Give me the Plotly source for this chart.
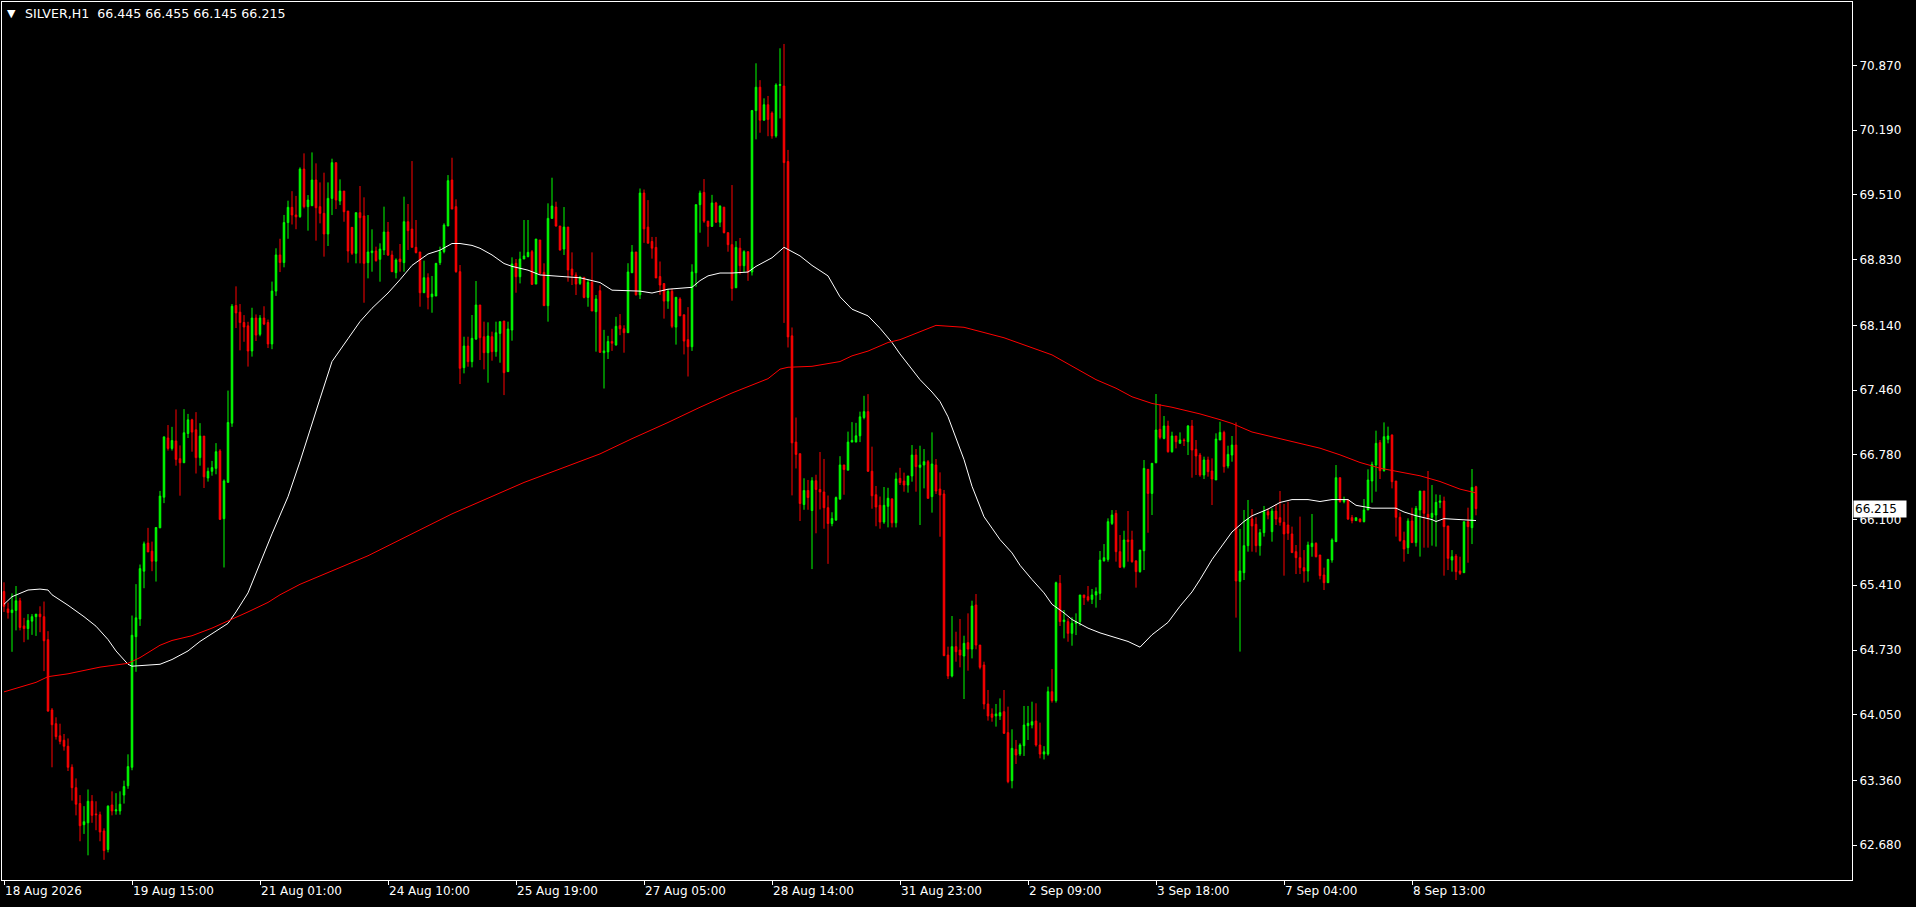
import plotly.graph_objects as go

# ---------------- data ----------------
symbol_title = "SILVER,H1"
last_ohlc = ["66.445", "66.455", "66.145", "66.215"]
last_price = 66.215

opens = [65.344,65.162,65.123,65.146,65.247,64.983,64.955,65.033,65.080,65.107,
65.080,64.839,64.100,63.956,63.828,63.782,63.719,63.498,63.284,63.117,
62.895,62.915,63.141,63.008,63.000,62.829,62.635,63.102,63.039,63.039,
63.206,63.304,63.498,64.870,65.056,65.558,65.853,65.768,65.663,66.013,
66.335,66.957,66.848,66.926,66.740,66.697,67.004,67.148,67.043,66.751,
66.977,66.537,66.607,66.638,66.821,66.110,66.491,67.113,68.349,68.279,
68.170,68.135,67.871,68.217,68.046,68.217,68.170,67.945,68.500,68.880,
68.800,69.220,69.380,69.300,69.282,69.782,69.387,69.397,69.667,69.387,
69.317,69.100,69.474,69.849,69.446,69.551,69.341,69.170,68.897,69.324,
69.289,68.799,68.904,68.921,68.834,68.932,69.121,68.879,68.694,68.837,
68.799,69.229,69.152,68.960,68.911,68.483,68.641,68.441,68.448,68.799,
68.914,69.184,69.667,69.387,68.704,67.696,67.923,67.759,67.997,68.354,
68.021,67.853,68.021,67.864,68.056,68.186,67.654,68.091,68.792,68.651,
68.837,68.862,68.914,68.574,69.037,68.697,68.347,69.264,69.383,69.184,
68.942,69.173,68.732,68.669,68.581,68.645,68.434,68.592,68.284,68.504,
67.853,67.861,67.971,67.934,68.137,68.104,68.063,68.693,68.911,68.461,
69.530,69.172,69.021,68.959,68.653,68.579,68.395,68.498,68.122,68.417,
68.251,67.990,67.916,68.693,69.408,69.537,69.235,69.180,69.426,69.224,
69.382,69.114,68.988,68.535,68.951,68.767,68.914,68.701,70.396,70.642,
70.296,70.458,70.370,70.130,70.660,70.654,69.861,68.030,66.914,66.792,
66.258,66.405,66.195,66.508,66.416,66.390,66.225,66.059,66.096,66.317,
66.674,66.619,66.914,66.914,66.980,67.172,67.234,66.608,66.361,66.250,
66.074,66.239,66.317,66.066,66.533,66.505,66.463,66.558,66.778,66.649,
66.673,66.708,66.341,66.673,66.421,66.369,64.677,64.457,64.765,64.730,
64.667,64.807,64.740,65.203,64.782,64.572,64.163,64.058,64.037,64.037,
64.082,63.862,63.357,63.686,63.637,63.725,63.935,63.942,63.984,63.732,
63.637,63.637,64.292,64.198,65.430,65.028,65.028,64.905,65.010,65.028,
65.308,65.290,65.262,65.308,65.325,65.668,65.682,66.060,66.165,65.763,
65.605,65.886,65.886,65.665,65.553,65.773,66.628,66.375,66.698,67.048,
66.953,67.083,66.813,66.978,66.901,66.936,66.918,67.083,66.838,66.778,
66.568,66.726,66.610,66.516,66.936,67.016,66.663,66.778,66.883,65.451,
65.542,65.826,66.106,66.050,65.826,65.963,66.183,65.973,66.190,66.120,
66.071,66.043,65.949,65.763,65.700,65.595,65.560,65.816,65.851,65.728,
65.518,65.437,65.675,65.868,66.540,66.288,66.306,66.120,66.089,66.106,
66.078,66.201,66.505,66.673,66.908,66.614,66.943,66.988,66.505,66.124,
65.879,65.805,66.085,65.858,66.201,66.400,66.155,66.124,66.148,66.281,
66.295,66.033,65.675,65.717,65.560,65.542,66.078,66.015,66.445]

highs = [65.441,65.228,65.325,65.402,65.278,65.068,65.107,65.107,65.107,65.189,
65.239,64.928,64.120,64.023,63.956,63.848,63.801,63.529,63.381,63.206,
63.090,63.265,63.206,63.141,63.032,62.857,63.098,63.245,63.226,63.245,
63.358,63.634,65.092,65.422,65.628,65.869,66.013,65.869,66.017,66.401,
66.969,67.093,67.074,67.257,66.879,67.260,67.210,67.159,67.229,67.113,
66.977,66.646,66.716,66.903,66.840,66.522,67.455,68.364,68.550,68.364,
68.248,68.178,68.325,68.255,68.248,68.341,68.201,68.600,68.950,69.050,
69.300,69.450,69.550,69.500,69.800,69.947,69.509,69.957,69.842,69.642,
69.744,69.642,69.891,69.849,69.674,69.551,69.341,69.170,69.324,69.604,
69.485,69.299,69.149,68.967,69.002,69.387,69.226,68.925,68.844,68.995,
69.492,69.415,69.866,69.247,68.911,68.820,68.687,68.659,68.792,68.967,
69.212,69.719,69.901,69.464,68.774,68.021,68.021,68.249,68.606,68.354,
68.179,68.172,68.074,68.179,68.179,68.186,68.179,68.855,68.837,68.914,
69.247,69.247,68.932,69.047,69.037,68.792,69.422,69.691,69.439,69.184,
69.383,69.173,68.907,68.697,68.659,68.645,68.623,68.907,68.459,68.560,
68.093,68.030,68.104,68.229,68.259,68.141,68.793,68.984,68.911,69.578,
69.567,69.456,69.069,69.069,68.811,68.579,68.524,68.524,68.435,68.435,
68.251,68.332,68.782,69.408,69.556,69.677,69.235,69.511,69.438,69.401,
69.382,69.114,69.614,69.025,69.058,68.929,68.914,70.403,70.893,70.716,
70.525,70.550,70.388,70.683,71.051,71.096,69.983,68.118,67.172,66.792,
66.534,66.516,66.545,66.571,66.810,66.737,66.353,66.177,66.342,66.766,
66.674,67.024,67.124,67.116,67.234,67.400,67.418,66.866,66.453,66.342,
66.442,66.434,66.324,66.593,66.644,66.593,66.558,66.883,66.841,66.876,
66.841,66.726,67.016,66.736,66.596,66.411,64.765,65.087,64.922,65.056,
64.880,65.115,65.248,65.318,64.782,64.607,64.310,64.117,64.163,64.222,
64.310,64.135,63.897,63.785,63.750,64.142,64.142,64.187,64.170,63.967,
63.720,64.345,64.530,65.448,65.518,65.150,65.063,65.073,65.115,65.308,
65.308,65.402,65.371,65.388,65.770,65.843,66.113,66.200,66.200,65.938,
65.983,66.190,65.983,65.675,65.780,66.726,66.628,66.691,67.419,67.314,
67.188,67.139,67.023,66.978,67.016,66.953,67.093,67.146,66.936,66.800,
66.761,66.761,66.743,67.006,67.128,67.034,66.876,66.978,67.121,66.002,
66.201,66.306,66.211,66.124,66.001,66.243,66.218,66.218,66.260,66.400,
66.264,66.288,66.026,65.833,66.131,65.780,65.868,66.159,65.861,65.728,
65.595,65.682,65.903,66.673,66.540,66.341,66.306,66.148,66.120,66.113,
66.316,66.628,66.708,67.034,66.936,67.121,67.076,66.995,66.505,66.176,
65.973,66.113,66.225,66.243,66.400,66.400,66.610,66.463,66.365,66.360,
66.341,66.033,65.780,65.738,65.710,66.078,66.225,66.631,66.455]

lows = [65.130,65.060,64.711,64.936,64.936,64.812,64.839,64.889,64.878,64.917,
64.508,64.081,63.498,63.789,63.739,63.673,63.459,63.148,62.993,62.721,
62.798,62.573,62.915,62.837,62.721,62.526,62.604,62.993,63.000,63.000,
63.117,63.272,63.467,64.501,64.983,65.379,65.760,65.558,65.449,66.013,
66.273,66.825,66.825,66.666,66.351,66.697,66.957,66.813,66.584,66.666,
66.432,66.499,66.561,66.576,66.102,65.597,66.491,67.074,68.112,67.878,
67.968,67.707,67.812,67.976,68.026,68.143,67.902,67.890,68.450,68.700,
68.750,69.050,69.200,69.150,69.270,69.369,69.135,69.397,69.030,69.212,
68.862,68.974,69.299,69.362,69.404,69.229,68.799,68.879,68.792,68.792,
68.378,68.634,68.704,68.809,68.599,68.879,68.869,68.704,68.634,68.704,
68.704,68.932,68.960,68.897,68.336,68.483,68.308,68.273,68.448,68.774,
68.897,69.184,69.362,68.693,67.524,67.636,67.706,67.699,67.986,67.776,
67.678,67.538,67.769,67.811,67.748,67.408,67.654,67.979,68.483,68.581,
68.837,68.855,68.564,68.574,68.679,68.347,68.179,69.264,69.177,68.925,
68.879,68.599,68.564,68.459,68.564,68.424,68.336,68.291,67.864,67.850,
67.477,67.787,67.872,67.927,68.037,67.853,68.063,68.693,68.454,68.417,
69.007,69.003,68.841,68.638,68.461,68.211,68.314,68.111,67.938,68.240,
67.835,67.603,67.872,68.546,69.114,69.217,68.966,69.180,69.217,69.173,
69.106,68.914,68.399,68.535,68.675,68.701,68.608,68.664,70.094,70.164,
70.292,70.127,70.101,70.112,70.314,68.166,67.908,66.354,66.637,66.085,
66.203,66.203,65.580,65.956,66.206,66.004,65.635,66.030,66.085,66.306,
66.361,66.619,66.914,66.914,66.914,67.153,66.601,66.214,66.030,66.004,
66.055,66.018,66.018,66.018,66.463,66.393,66.383,66.498,66.393,66.043,
66.428,66.323,66.173,66.369,65.920,64.670,64.425,64.443,64.607,64.548,
64.215,64.513,64.642,64.737,64.527,64.107,63.988,63.977,63.925,63.995,
63.848,63.330,63.277,63.533,63.617,63.617,63.785,63.907,63.715,63.592,
63.580,63.620,64.177,64.177,64.982,64.852,64.817,64.775,64.887,64.985,
65.203,65.238,65.213,65.175,65.255,65.658,65.658,66.043,65.658,65.598,
65.588,65.658,65.647,65.385,65.542,65.570,65.962,66.148,66.691,66.943,
66.943,66.803,66.803,66.848,66.901,66.873,66.778,66.540,66.568,66.550,
66.526,66.551,66.253,66.516,66.936,66.593,66.638,66.708,65.070,64.713,
65.465,65.763,65.763,65.756,65.721,65.921,66.103,65.868,66.043,66.036,
65.511,65.886,65.753,65.528,65.528,65.437,65.448,65.710,65.703,65.472,
65.360,65.437,65.647,65.868,66.278,66.271,66.096,66.061,66.089,66.071,
66.071,66.201,66.278,66.393,66.526,66.603,66.901,66.428,65.921,65.868,
65.658,65.739,65.858,65.816,65.711,65.805,65.805,65.826,65.816,66.220,
65.511,65.570,65.553,65.465,65.518,65.542,65.647,65.843,66.145]

closes = [65.189,65.123,65.150,65.247,64.967,64.955,65.041,65.080,65.107,65.080,
64.827,64.089,63.945,63.820,63.770,63.719,63.498,63.284,63.110,62.884,
62.926,63.141,62.993,63.000,62.818,62.623,63.090,63.039,63.051,63.110,
63.296,63.505,64.885,65.068,65.585,65.845,65.760,65.663,66.017,66.347,
66.969,66.848,66.930,66.732,66.697,67.012,67.148,67.019,66.751,66.977,
66.549,66.607,66.646,66.813,66.102,66.506,67.120,68.341,68.271,68.170,
68.123,67.871,68.217,68.038,68.217,68.154,67.945,68.500,68.880,68.800,
69.220,69.380,69.300,69.280,69.782,69.387,69.457,69.667,69.376,69.317,
69.100,69.474,69.849,69.457,69.551,69.334,68.921,68.897,69.324,69.271,
68.792,68.911,68.921,68.820,68.942,69.121,68.879,68.704,68.827,68.809,
69.229,69.135,68.960,68.904,68.483,68.641,68.434,68.469,68.792,68.914,
69.194,69.660,69.362,68.704,67.689,67.923,67.759,68.004,68.354,68.011,
67.853,68.028,67.864,68.063,68.179,67.643,68.102,68.785,68.651,68.837,
68.869,68.907,68.571,69.047,68.687,68.347,69.264,69.394,69.184,68.932,
69.173,68.722,68.669,68.574,68.645,68.434,68.592,68.291,68.417,67.857,
67.872,67.971,67.953,68.130,68.104,68.063,68.701,68.911,68.461,69.530,
69.154,69.003,68.951,68.638,68.564,68.395,68.498,68.130,68.435,68.240,
67.975,67.916,68.701,69.408,69.530,69.235,69.180,69.426,69.224,69.393,
69.114,68.988,68.527,68.959,68.767,68.914,68.701,70.396,70.642,70.296,
70.458,70.303,70.130,70.665,70.670,69.850,68.019,66.906,66.785,66.269,
66.405,66.332,66.508,66.416,66.390,66.225,66.059,66.111,66.331,66.674,
66.626,66.914,66.932,66.980,67.179,67.234,66.608,66.350,66.232,66.074,
66.250,66.324,66.066,66.527,66.488,66.463,66.558,66.778,66.656,66.673,
66.708,66.323,66.684,66.400,66.358,64.670,64.457,64.765,64.712,64.677,
64.800,64.740,65.192,64.782,64.548,64.163,64.037,64.023,64.058,64.072,
63.855,63.347,63.697,63.627,63.732,63.942,63.960,63.977,63.732,63.637,
63.660,64.292,64.198,65.437,65.028,65.045,64.905,65.010,65.028,65.308,
65.280,65.255,65.308,65.343,65.675,65.700,66.078,66.148,65.763,65.598,
65.886,65.868,65.658,65.553,65.780,66.638,66.375,66.691,67.041,66.964,
67.083,66.813,66.978,66.918,66.936,66.929,67.083,66.831,66.768,66.568,
66.726,66.603,66.526,66.946,67.016,66.656,66.785,66.883,65.455,65.560,
65.826,66.106,66.033,65.826,65.963,66.183,66.148,66.190,66.106,66.071,
65.949,65.956,65.753,65.700,65.595,65.560,65.833,65.851,65.710,65.511,
65.437,65.682,65.886,66.540,66.288,66.306,66.106,66.089,66.120,66.078,
66.201,66.516,66.680,66.901,66.614,66.971,66.978,66.498,66.124,65.879,
65.791,66.085,65.858,66.218,66.400,66.166,66.124,66.166,66.281,66.295,
66.026,65.693,65.710,65.553,65.535,66.078,66.026,66.438,66.215]

# moving averages, read at sample bars
white_ma_bar = [0,2,6,9,11,12,16,20,23,26,28,31,32,36,39,42,46,49,52,56,58,61,64,67,71,74,
79,82,86,89,92,96,99,102,106,109,112,114,117,119,122,125,127,131,134,137,141,144,147,149,
152,156,159,162,166,169,172,174,176,179,182,186,188,192,195,199,202,206,209,212,216,219,222,
224,229,232,234,236,238,240,242,245,247,249,252,254,257,260,262,265,267,271,274,277,281,284,
287,291,294,297,299,302,305,307,310,312,316,319,322,326,329,332,336,338,342,345,348,350,353,
357,358,360,363,367,368]
white_ma_val = [65.21,65.29,65.36,65.37,65.36,65.31,65.20,65.08,64.98,64.84,64.72,64.58,64.56,
64.57,64.58,64.63,64.72,64.82,64.90,65.01,65.13,65.33,65.64,65.95,66.34,66.71,
67.37,67.76,68.00,68.18,68.32,68.48,68.62,68.77,68.89,68.93,69.00,69.00,68.98,68.95,68.88,
68.79,68.76,68.72,68.67,68.66,68.65,68.64,68.61,68.59,68.51,68.50,68.50,68.48,68.52,68.53,
68.54,68.61,68.66,68.69,68.69,68.70,68.76,68.85,68.96,68.87,68.77,68.66,68.44,68.31,68.24,
68.11,67.96,67.84,67.57,67.44,67.34,67.18,66.95,66.73,66.45,66.13,66.01,65.89,65.75,65.62,
65.47,65.33,65.21,65.12,65.05,64.96,64.91,64.87,64.82,64.76,64.89,65.02,65.19,65.34,65.47,
65.68,65.85,65.97,66.08,66.14,66.21,66.28,66.31,66.31,66.29,66.31,66.31,66.25,66.22,66.22,
66.22,66.18,66.14,66.10,66.08,66.11,66.10,66.09,66.09]

red_ma_bar = [0,8,11,16,24,31,34,39,42,47,52,57,61,66,69,74,91,112,130,149,157,166,174,182,191,
194,196,202,209,212,216,221,224,233,240,250,262,273,278,282,287,292,299,304,307,312,319,324,
329,334,339,344,349,354,359,364,368]
red_ma_val = [64.29,64.39,64.45,64.48,64.55,64.59,64.65,64.78,64.83,64.88,64.96,65.05,65.13,
65.23,65.31,65.42,65.72,66.16,66.49,66.79,66.95,67.12,67.28,67.43,67.58,67.68,67.70,67.71,
67.76,67.82,67.87,67.96,67.99,68.14,68.12,68.01,67.83,67.57,67.48,67.39,67.32,67.28,67.21,
67.15,67.11,67.02,66.95,66.90,66.85,66.78,66.70,66.64,66.60,66.56,66.50,66.42,66.38]

time_tick_bars = [0, 32, 64, 96, 128, 160, 192, 224, 256, 288, 320, 352]
time_tick_text = ["18 Aug 2026", "19 Aug 15:00", "21 Aug 01:00", "24 Aug 10:00",
                  "25 Aug 19:00", "27 Aug 05:00", "28 Aug 14:00", "31 Aug 23:00",
                  "2 Sep 09:00", "3 Sep 18:00", "7 Sep 04:00", "8 Sep 13:00"]
price_ticks = [70.870, 70.190, 69.510, 68.830, 68.140, 67.460, 66.780,
               66.100, 65.410, 64.730, 64.050, 63.360, 62.680]

# ---------------- figure ----------------
bars = list(range(len(opens)))
FONT = "DejaVu Sans"
UP, DOWN = "#00FF00", "#FF0000"

fig = go.Figure()
fig.add_trace(go.Candlestick(
    x=bars, open=opens, high=highs, low=lows, close=closes,
    increasing=dict(line=dict(color=UP, width=1), fillcolor=UP),
    decreasing=dict(line=dict(color=DOWN, width=1), fillcolor=DOWN),
    whiskerwidth=0, hoverinfo="skip", showlegend=False))
fig.add_trace(go.Scatter(x=white_ma_bar, y=white_ma_val, mode="lines",
                         line=dict(color="#FFFFFF", width=1), hoverinfo="skip",
                         showlegend=False))
fig.add_trace(go.Scatter(x=red_ma_bar, y=red_ma_val, mode="lines",
                         line=dict(color="#FF0000", width=1), hoverinfo="skip",
                         showlegend=False))

fig.update_layout(
    width=1916, height=907,
    margin=dict(l=2, r=64, t=2, b=27),
    paper_bgcolor="#000000", plot_bgcolor="#000000",
    font=dict(family=FONT, size=12, color="#FFFFFF"),
    boxgap=0.45,
    showlegend=False,
    hovermode=False,
)
fig.update_xaxes(
    range=[-0.5, 462], showgrid=False, zeroline=False,
    showline=True, mirror=True, linecolor="#FFFFFF", linewidth=1,
    ticks="outside", ticklen=4, tickcolor="#FFFFFF", tickwidth=1,
    tickvals=time_tick_bars, ticktext=time_tick_text,
    ticklabelposition="outside right",
    tickfont=dict(family=FONT, size=12, color="#FFFFFF"),
    rangeslider=dict(visible=False), fixedrange=True,
)
fig.update_yaxes(
    side="right", range=[62.314, 71.537], showgrid=False, zeroline=False,
    showline=True, mirror=True, linecolor="#FFFFFF", linewidth=1,
    ticks="outside", ticklen=4, tickcolor="#FFFFFF", tickwidth=1,
    tickvals=price_ticks, ticktext=[f"{v:.3f}" for v in price_ticks],
    tickfont=dict(family=FONT, size=12, color="#FFFFFF"), fixedrange=True,
)

fig.add_annotation(text="\u25BC", xref="paper", yref="paper", x=0, y=1,
                   xanchor="left", yanchor="top", xshift=3, yshift=-3,
                   showarrow=False, font=dict(family=FONT, size=11, color="#FFFFFF"))
fig.add_annotation(text=symbol_title + "\u00a0\u00a0" + " ".join(last_ohlc),
                   xref="paper", yref="paper", x=0, y=1,
                   xanchor="left", yanchor="top", xshift=21, yshift=-2,
                   showarrow=False, font=dict(family=FONT, size=12.6, color="#FFFFFF"))
fig.add_annotation(text=f"{last_price:.3f}", xref="paper", yref="y", x=1, y=last_price,
                   xanchor="left", yanchor="middle", xshift=1, showarrow=False,
                   bgcolor="#FFFFFF", borderpad=1, width=50, align="left",
                   font=dict(family=FONT, size=12, color="#000000"))

fig.write_html("out.html", config={"displayModeBar": False},
               post_script="document.body.style.margin='0';document.body.style.overflow='hidden';")
